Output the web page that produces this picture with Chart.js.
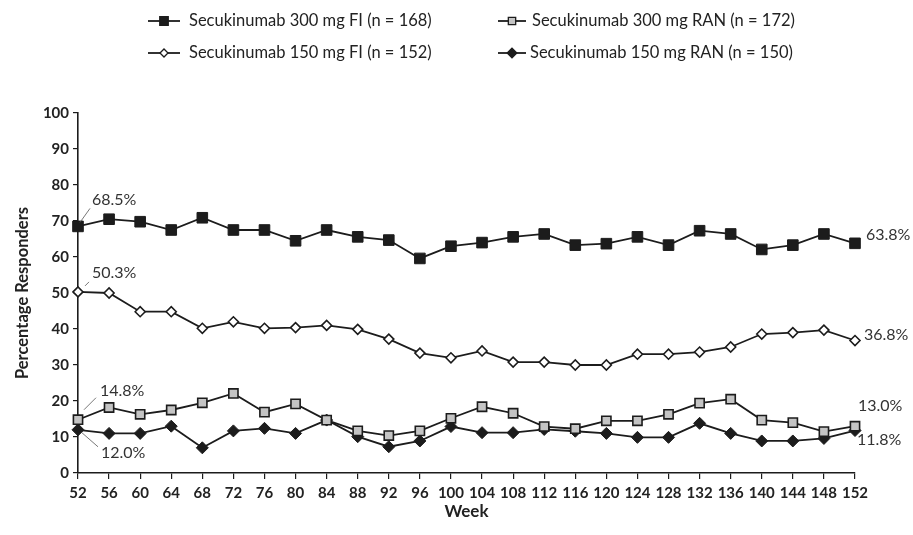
<!DOCTYPE html>
<html>
<head>
<meta charset="utf-8">
<script src="https://cdn.jsdelivr.net/npm/chart.js@4/dist/chart.umd.min.js"></script>
<style>
  body { margin: 0; background: #fff; }
  #grafico { display: block; }
</style>
</head>
<body>
<canvas id="grafico" width="913" height="535"></canvas>
<script>
// Semanas (eixo x)
var semanas = [52, 56, 60, 64, 68, 72, 76, 80, 84, 88, 92, 96, 100, 104, 108, 112, 116, 120, 124, 128, 132, 136, 140, 144, 148, 152];

// Valores (% respondedores)
var fi300 = [68.5, 70.5, 69.8, 67.5, 70.9, 67.5, 67.5, 64.5, 67.5, 65.6, 64.7, 59.6, 63.0, 64.0, 65.6, 66.4, 63.3, 63.7, 65.6, 63.3, 67.3, 66.4, 62.1, 63.3, 66.4, 63.8];
var ran300 = [14.8, 18.2, 16.3, 17.5, 19.5, 22.1, 16.9, 19.2, 14.7, 11.7, 10.4, 11.7, 15.2, 18.4, 16.6, 12.9, 12.3, 14.5, 14.5, 16.3, 19.4, 20.5, 14.7, 14.0, 11.5, 13.0];
var fi150 = [50.3, 50.0, 44.8, 44.8, 40.2, 42.0, 40.2, 40.4, 41.0, 39.9, 37.2, 33.3, 32.0, 33.9, 30.8, 30.8, 30.0, 30.0, 33.0, 33.0, 33.6, 35.0, 38.6, 39.0, 39.7, 36.8];
var ran150 = [12.0, 11.0, 11.0, 13.0, 7.0, 11.7, 12.4, 11.0, 14.7, 10.1, 7.3, 8.9, 12.9, 11.2, 11.2, 12.1, 11.6, 11.0, 9.9, 9.9, 13.8, 11.0, 8.9, 8.9, 9.6, 11.8];

var nomes = [
    'Secukinumab 300 mg FI (n = 168)',
    'Secukinumab 300 mg RAN (n = 172)',
    'Secukinumab 150 mg FI (n = 152)',
    'Secukinumab 150 mg RAN (n = 150)'
];

var preto = '#1c1c1c';
var fonte = 'Lato, "DejaVu Sans", sans-serif';

// Legenda desenhada à mão (2 colunas)
var legendaPlugin = {
    id: 'legendaManual',
    afterDraw: function (chart) {
        var ctx = chart.ctx;
        var itens = [
            { ds: 0, x1: 148, x2: 180, mx: 164, y: 21, tx: 189 },
            { ds: 1, x1: 498, x2: 526, mx: 512, y: 21, tx: 532 },
            { ds: 2, x1: 148, x2: 180, mx: 164, y: 53, tx: 189 },
            { ds: 3, x1: 498, x2: 526, mx: 512, y: 53, tx: 530 }
        ];
        ctx.save();
        itens.forEach(function (it) {
            var ds = chart.data.datasets[it.ds];
            ctx.strokeStyle = preto;
            ctx.lineWidth = 1.8;
            ctx.beginPath();
            ctx.moveTo(it.x1, it.y);
            ctx.lineTo(it.x2, it.y);
            ctx.stroke();
            ctx.fillStyle = ds.pointBackgroundColor;
            ctx.lineWidth = 1.3;
            Chart.helpers.drawPoint(ctx, {
                pointStyle: ds.pointStyle,
                radius: ds.pointRadius * 0.8,
                rotation: 0,
                borderWidth: 1.3
            }, it.mx, it.y);
            ctx.fillStyle = '#222';
            ctx.font = '16.5px ' + fonte;
            ctx.textBaseline = 'middle';
            ctx.textAlign = 'left';
            ctx.fillText(nomes[it.ds], it.tx, it.y);
        });
        ctx.restore();
    }
};

// Rótulos de valor no início e no fim
var rotulosPlugin = {
    id: 'rotulos',
    afterDatasetsDraw: function (chart) {
        var ctx = chart.ctx;
        var ult = semanas.length - 1;
        var marcas = [
            { ds: 0, i: 0, dx: 14, dy: -27, linha: [2, -4, 12, -18] },
            { ds: 2, i: 0, dx: 14, dy: -19, linha: [7, -6, 11, -10] },
            { ds: 1, i: 0, dx: 22, dy: -29, linha: [6, -10, 18, -22] },
            { ds: 3, i: 0, dx: 23, dy: 23, linha: [4, 3, 20, 17] },
            { ds: 0, i: ult, dx: 11, dy: -8 },
            { ds: 2, i: ult, dx: 9, dy: -6 },
            { ds: 1, i: ult, dx: 3, dy: -20 },
            { ds: 3, i: ult, dx: 2, dy: 9 }
        ];
        ctx.save();
        ctx.font = '16px ' + fonte;
        ctx.fillStyle = '#333';
        ctx.strokeStyle = '#555';
        ctx.lineWidth = 0.8;
        ctx.textBaseline = 'middle';
        ctx.textAlign = 'left';
        marcas.forEach(function (m) {
            var p = chart.getDatasetMeta(m.ds).data[m.i];
            var valor = chart.data.datasets[m.ds].data[m.i];
            if (m.linha) {
                ctx.beginPath();
                ctx.moveTo(p.x + m.linha[0], p.y + m.linha[1]);
                ctx.lineTo(p.x + m.linha[2], p.y + m.linha[3]);
                ctx.stroke();
            }
            ctx.fillText(valor.toFixed(1) + '%', p.x + m.dx, p.y + m.dy);
        });
        ctx.restore();
    }
};

var ctx = document.getElementById('grafico').getContext('2d');
var grafico = new Chart(ctx, {
    type: 'line',
    data: {
        labels: semanas,
        datasets: [
            {
                label: nomes[0], data: fi300,
                borderColor: preto, borderWidth: 1.8,
                pointStyle: 'rect', pointRadius: 7.5,
                pointBackgroundColor: preto, pointBorderColor: preto, pointBorderWidth: 1
            },
            {
                label: nomes[1], data: ran300,
                borderColor: preto, borderWidth: 1.8,
                pointStyle: 'rect', pointRadius: 6.5,
                pointBackgroundColor: '#c4c4c4', pointBorderColor: preto, pointBorderWidth: 1.6
            },
            {
                label: nomes[2], data: fi150,
                borderColor: preto, borderWidth: 1.8,
                pointStyle: 'rectRot', pointRadius: 5,
                pointBackgroundColor: '#ffffff', pointBorderColor: preto, pointBorderWidth: 1.6
            },
            {
                label: nomes[3], data: ran150,
                borderColor: preto, borderWidth: 1.8,
                pointStyle: 'rectRot', pointRadius: 6,
                pointBackgroundColor: preto, pointBorderColor: preto, pointBorderWidth: 1
            }
        ]
    },
    options: {
        responsive: false,
        animation: false,
        layout: { padding: { top: 113, right: 58, left: 0, bottom: 0 } },
        plugins: {
            legend: { display: false },
            tooltip: { enabled: false }
        },
        scales: {
            x: {
                type: 'category',
                offset: false,
                grid: { display: true, drawOnChartArea: false, drawTicks: true, tickLength: 6, color: preto, lineWidth: 1.2 },
                border: { display: true, color: preto, width: 1.6 },
                ticks: { font: { family: fonte, size: 15, weight: 'bold' }, color: '#222', padding: 5, maxRotation: 0, autoSkip: false },
                title: { display: true, text: 'Week', font: { family: fonte, size: 17, weight: 'bold' }, color: '#222', padding: { top: 4, bottom: 13 } },
                afterFit: function (s) { s.height = 62; }
            },
            y: {
                min: 0, max: 100,
                grid: { display: true, drawOnChartArea: false, drawTicks: true, tickLength: 5, color: preto, lineWidth: 1.2 },
                border: { display: true, color: preto, width: 1.6 },
                ticks: { stepSize: 10, font: { family: fonte, size: 15, weight: 'bold' }, color: '#222', padding: 4 },
                title: { display: true, text: 'Percentage Responders', font: { family: fonte, size: 16.5, weight: 'bold' }, color: '#222', padding: { top: 13, bottom: 4 } },
                afterFit: function (s) { s.width = 78; }
            }
        }
    },
    plugins: [legendaPlugin, rotulosPlugin]
});
</script>
</body>
</html>
